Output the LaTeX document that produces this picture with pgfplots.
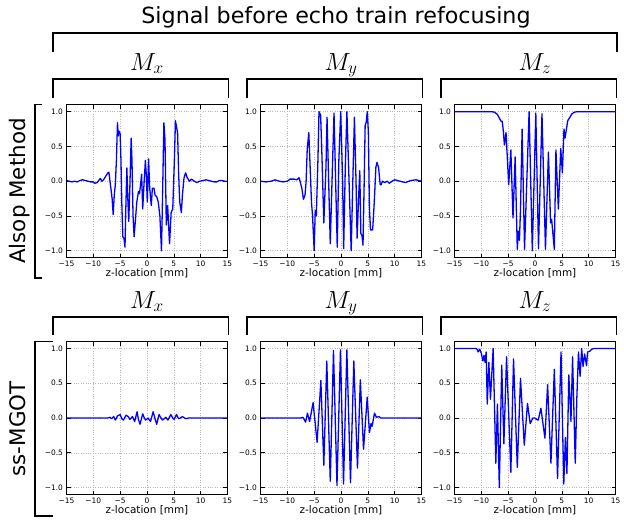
\documentclass[border=0pt]{standalone}
\usepackage{fontspec}
\setmainfont{DejaVu Sans}
\usepackage{pgfplots}
\pgfplotsset{compat=1.18}
\pgfplotsset{
  sig/.style={
    scale only axis, width=161bp, height=153bp,
    xmin=-15, xmax=15, ymin=-1.1, ymax=1.1,
    xtick={-15,-10,-5,0,5,10,15}, ytick={-1,-0.5,0,0.5,1},
    xticklabels={−15,−10,−5,0,5,10,15},
    yticklabels={−1.0,−0.5,0.0,0.5,1.0},
    tick align=inside, major tick length=4bp,
    tick style={black, line width=0.6bp},
    axis line style={black, line width=1bp},
    grid=major, grid style={gray!55, dotted, line width=0.5bp},
    tick label style={font=\fontsize{7.5}{9}\selectfont},
    xlabel={z-location [mm]},
    xlabel style={font=\fontsize{10.5}{12}\selectfont, at={(axis description cs:0.5,0)}, anchor=center, yshift=-16bp},
    anchor=north west,
  },
  sigline/.style={color=blue, line width=1.3bp, line join=round, mark=none},
}
\begin{document}
\begin{tikzpicture}
\path[use as bounding box] (0,0) rectangle (624bp,-522bp);
% ---------- Row 1 : Alsop Method
\begin{axis}[sig, at={(66.5bp,-104.7bp)}]
\addplot[sigline] coordinates {(-15,0.01)(-14.5,0.0)(-14,-0.01)(-13.5,0.0)(-13,-0.01)(-12.5,0.01)(-12,0.02)(-11.5,0.01)(-11,0.0)(-10.5,-0.01)(-10,-0.01)(-9.7,-0.03)(-9.3,-0.02)(-9.0,0.01)(-8.7,0.04)(-8.4,0.0)(-8.1,0.02)(-7.7,0.07)(-7.3,0.12)(-7.1,0.13)(-6.9,0.0)(-6.7,-0.12)(-6.5,-0.25)(-6.3,-0.48)(-6.1,-0.2)(-5.9,-0.05)(-5.7,0.3)(-5.5,0.84)(-5.35,0.65)(-5.2,0.72)(-5.0,0.68)(-4.85,0.3)(-4.7,-0.3)(-4.5,-0.8)(-4.3,-0.82)(-4.1,-0.95)(-3.95,-0.4)(-3.75,0.19)(-3.6,-0.2)(-3.4,-0.58)(-3.2,-0.1)(-2.95,0.62)(-2.8,0.3)(-2.6,-0.5)(-2.4,-0.8)(-2.2,-0.6)(-1.9,-0.3)(-1.6,-0.15)(-1.4,-0.18)(-1.2,-0.05)(-1.0,0.1)(-0.8,-0.4)(-0.6,-0.1)(-0.3,0.3)(-0.1,0.05)(0.05,-0.3)(0.3,0.32)(0.5,-0.1)(0.8,-0.35)(1.0,-0.1)(1.3,-0.1)(1.5,-0.2)(1.8,-0.22)(2.1,-0.3)(2.4,-0.5)(2.7,-1.0)(2.9,-0.2)(3.15,0.84)(3.35,0.6)(3.6,-0.63)(3.85,-0.35)(4.2,-0.9)(4.5,-0.45)(4.8,-0.4)(5.1,0.3)(5.3,0.87)(5.5,0.78)(5.7,0.7)(5.9,0.1)(6.1,-0.3)(6.4,-0.45)(6.6,-0.2)(6.9,0.05)(7.2,0.12)(7.5,0.05)(7.9,0.0)(8.3,0.03)(8.8,0.0)(9.3,-0.02)(9.8,0.0)(10.5,0.01)(11.0,0.02)(11.5,0.01)(12.0,0.0)(12.5,-0.01)(13.0,-0.01)(13.5,0.01)(14.0,0.01)(14.5,0.0)(15,0.0)};
\end{axis}
\begin{axis}[sig, at={(260.5bp,-104.7bp)}]
\addplot[sigline] coordinates {(-15,0.0)(-14,-0.01)(-13,0.0)(-12.3,0.02)(-11.5,0.0)(-10.8,-0.01)(-10,0.0)(-9.5,0.03)(-8.8,0.03)(-8.2,0.02)(-7.8,0.05)(-7.3,-0.1)(-7.0,-0.26)(-6.7,-0.2)(-6.5,0.0)(-6.3,0.45)(-6.0,0.7)(-5.8,0.3)(-5.5,-0.3)(-5.3,-0.5)(-5.0,-1.0)(-4.8,-0.42)(-4.6,-0.5)(-4.3,0.3)(-4.1,1.0)(-3.8,0.95)(-3.6,0.5)(-3.2,-0.6)(-2.8,0.2)(-2.6,0.92)(-2.3,0.0)(-2.0,-0.9)(-1.6,0.2)(-1.3,0.98)(-1.0,0.0)(-0.7,-0.95)(-0.4,0.3)(-0.05,1.0)(0.3,0.0)(0.5,-0.97)(0.8,0.2)(1.1,1.0)(1.5,0.0)(1.9,-1.0)(2.2,0.0)(2.5,0.92)(2.8,0.0)(3.0,-0.82)(3.3,-0.2)(3.5,0.15)(3.7,-0.75)(3.9,-0.78)(4.1,-0.92)(4.3,-0.1)(4.5,0.8)(4.7,0.85)(4.9,1.0)(5.1,0.7)(5.3,-0.4)(5.5,-0.7)(5.9,-0.7)(6.2,-0.3)(6.5,0.2)(6.7,0.27)(7.0,0.2)(7.3,-0.05)(7.5,-0.05)(7.7,0.0)(8.2,-0.02)(8.6,0.0)(9.0,-0.03)(9.5,0.0)(10,0.02)(11,0.0)(12,-0.02)(13,0.01)(14,0.02)(15,0.0)};
\end{axis}
\begin{axis}[sig, at={(454.5bp,-104.7bp)}]
\addplot[sigline] coordinates {(-15,1)(-10,1)(-8,1)(-7.5,0.99)(-7.0,0.96)(-6.6,0.9)(-6.3,0.86)(-6.1,0.86)(-5.9,0.72)(-5.7,0.52)(-5.4,0.7)(-5.2,0.4)(-4.9,-0.05)(-4.7,0.2)(-4.5,0.45)(-4.1,-0.53)(-3.7,0.35)(-3.3,-0.98)(-3.1,-0.72)(-2.9,-0.85)(-2.7,-0.4)(-2.4,0.75)(-1.95,-0.98)(-1.1,1.0)(-0.5,-1.0)(0.15,0.98)(0.65,-0.97)(1.3,0.97)(1.95,-0.98)(2.5,0.42)(2.9,-0.6)(3.1,-0.55)(3.6,-0.98)(3.9,0.45)(4.35,-0.4)(4.8,0.47)(5.1,0.12)(5.4,0.75)(5.6,0.62)(5.8,0.72)(6.1,0.87)(6.5,0.92)(6.9,0.97)(7.3,0.99)(7.8,1.0)(15,1.0)};
\end{axis}
% ---------- Row 2 : ss-MGOT
\begin{axis}[sig, at={(66.5bp,-341.5bp)}]
\addplot[sigline] coordinates {(-15,0)(-10,0)(-8,0)(-7.3,0.0)(-6.9,0.01)(-6.6,-0.01)(-6.2,0.02)(-5.9,-0.03)(-5.5,0.03)(-5.0,0.05)(-4.7,-0.01)(-4.4,-0.03)(-3.9,0.04)(-3.5,0.02)(-3.2,-0.02)(-2.7,0.02)(-2.3,-0.05)(-1.85,0.09)(-1.6,-0.02)(-1.3,-0.09)(-0.8,0.06)(-0.5,0.0)(-0.25,-0.03)(0.2,0.0)(0.65,-0.05)(1.15,0.09)(1.45,0.0)(1.8,-0.09)(2.25,0.05)(2.6,0.0)(2.9,-0.03)(3.5,0.01)(3.9,-0.03)(4.45,0.05)(4.8,0.0)(5.05,-0.02)(5.5,0.05)(5.8,0.0)(6.0,-0.01)(6.6,0.02)(7.2,-0.01)(7.8,0.0)(15,0)};
\end{axis}
\begin{axis}[sig, at={(260.5bp,-341.5bp)}]
\addplot[sigline] coordinates {(-15,0)(-8,0)(-7.5,0.0)(-7.1,0.01)(-6.8,-0.03)(-6.6,-0.06)(-6.25,0.07)(-5.85,-0.05)(-5.2,0.22)(-4.45,-0.35)(-3.75,0.54)(-3.2,-0.68)(-2.65,0.82)(-2.0,-0.91)(-1.4,0.97)(-0.75,-0.97)(-0.1,0.98)(0.47,-0.95)(1.09,0.98)(1.77,-0.93)(2.39,0.82)(3.07,-0.72)(3.6,0.55)(4.2,-0.45)(4.88,0.3)(5.3,-0.21)(5.6,-0.08)(5.8,-0.12)(6.24,0.07)(6.6,0.01)(7.0,0.02)(7.5,0.0)(8,0)(15,0)};
\end{axis}
\begin{axis}[sig, at={(454.5bp,-341.5bp)}]
\addplot[sigline] coordinates {(-15,1)(-11,1)(-10.8,0.99)(-10.6,0.95)(-10.3,0.99)(-10.0,0.93)(-9.7,0.82)(-9.5,0.9)(-9.3,0.8)(-9.1,0.95)(-8.9,0.2)(-8.6,0.8)(-8.3,0.27)(-7.8,1.0)(-7.3,-0.65)(-7.0,0.2)(-6.65,-1.0)(-6.2,0.76)(-5.8,-0.37)(-5.3,0.88)(-4.5,-0.78)(-4.0,0.85)(-3.3,-0.71)(-2.7,0.57)(-2.0,-0.39)(-1.4,0.21)(-0.9,-0.08)(-0.4,0.0)(0.0,0.0)(0.3,-0.02)(0.6,-0.03)(1.1,0.14)(1.85,-0.29)(2.35,0.48)(2.97,-0.65)(3.6,0.7)(4.2,-0.87)(4.85,0.95)(5.36,-0.95)(5.67,-0.28)(5.95,-0.8)(6.3,0.62)(6.7,-0.05)(7.0,0.88)(7.5,-0.65)(7.8,0.3)(8.1,0.95)(8.4,0.6)(8.7,1.0)(8.95,0.74)(9.25,0.92)(9.6,0.75)(9.8,0.95)(10.2,0.96)(10.6,0.99)(11,1.0)(15,1.0)};
\end{axis}
% ---------- brackets and labels
\begin{scope}[x=1bp,y=-1bp, line width=1.4bp]
\draw (53,52) -- (53,33) -- (617,33) -- (617,52);
\draw (53,98) -- (53,79) -- (228.5,79) -- (228.5,98);
\draw (247,98) -- (247,79) -- (422.5,79) -- (422.5,98);
\draw (441,98) -- (441,79) -- (616.5,79) -- (616.5,98);
\draw (53,335) -- (53,317) -- (228.5,317) -- (228.5,335);
\draw (247,335) -- (247,317) -- (422.5,317) -- (422.5,335);
\draw (441,335) -- (441,317) -- (616.5,317) -- (616.5,335);
\draw (42,104.7) -- (35,104.7) -- (35,278) -- (42,278);
\draw (53,341.5) -- (35,341.5) -- (35,516) -- (53,516);
\node[font=\fontsize{22.3}{26}\selectfont, anchor=base] at (336,23.3) {Signal before echo train refocusing};
\node[font=\fontsize{23}{27}\selectfont, anchor=base] at (147,70) {$M_x$};
\node[font=\fontsize{23}{27}\selectfont, anchor=base] at (341,70) {$M_y$};
\node[font=\fontsize{23}{27}\selectfont, anchor=base] at (535,70) {$M_z$};
\node[font=\fontsize{23}{27}\selectfont, anchor=base] at (147,308) {$M_x$};
\node[font=\fontsize{23}{27}\selectfont, anchor=base] at (341,308) {$M_y$};
\node[font=\fontsize{23}{27}\selectfont, anchor=base] at (535,308) {$M_z$};
\node[rotate=90, font=\fontsize{21.5}{26}\selectfont] at (20,191) {Alsop Method};
\node[rotate=90, font=\fontsize{21.5}{26}\selectfont] at (18,429) {ss-MGOT};
\end{scope}
\end{tikzpicture}
\end{document}
